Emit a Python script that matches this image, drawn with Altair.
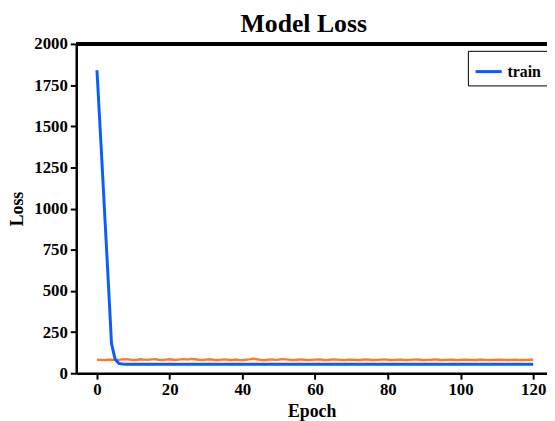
import altair as alt
import pandas as pd

epochs = list(range(121))
train_loss = [1840, 1435, 1020, 605, 180, 85, 60, 56] + [55] * 113
orange_loss = [
    82, 81, 80, 82, 83, 80, 81, 84, 86, 83, 80, 82, 85, 83, 81, 84, 86, 82, 80, 83,
    85, 82, 81, 84, 86, 83, 87, 85, 82, 80, 83, 85, 82, 80, 81, 84, 82, 80, 83, 81,
    79, 82, 84, 88, 85, 81, 79, 82, 84, 81, 83, 86, 84, 81, 80, 82, 84, 82, 80, 81,
    83, 84, 82, 80, 82, 84, 83, 81, 80, 82, 83, 81, 80, 82, 84, 82, 80, 81, 83, 84,
    82, 80, 81, 83, 82, 80, 81, 83, 84, 82, 80, 81, 82, 84, 82, 80, 81, 83, 82, 80,
    81, 82, 83, 81, 80, 82, 83, 81, 80, 81, 82, 83, 81, 80, 81, 82, 81, 80, 81, 82,
    82,
]
x_ticks = [0, 20, 40, 60, 80, 100, 120]
y_ticks = [0, 250, 500, 750, 1000, 1250, 1500, 1750, 2000]

df = pd.DataFrame({"epoch": epochs, "train": train_loss, "other": orange_loss, "series": "train"})

FONT = "Liberation Serif"
W, H = 476, 333

x = alt.X("epoch:Q", scale=alt.Scale(domain=[-5.7, 123.8], nice=False, zero=False),
          axis=alt.Axis(values=x_ticks, format="d", title="Epoch", grid=False, labelFont=FONT,
                        labelFontWeight="bold", labelFontSize=17, titleFont=FONT,
                        titleFontWeight="bold", titleFontSize=18, titlePadding=5,
                        domainColor="black", domainWidth=2.5, tickColor="black",
                        tickWidth=2, tickSize=6, labelColor="black", titleColor="black",
                        labelPadding=3))

y_axis = alt.Axis(values=y_ticks, format="d", title="Loss", grid=False, labelFont=FONT,
                  labelFontWeight="bold", labelFontSize=17, titleFont=FONT,
                  titleFontWeight="bold", titleFontSize=18, titlePadding=7,
                  domainColor="black", domainWidth=2.5, tickColor="black",
                  tickWidth=2, tickSize=6, labelColor="black", titleColor="black",
                  labelPadding=3)

orange = alt.Chart(df).mark_line(color="#ff7b22", strokeWidth=2.4).encode(
    x=x,
    y=alt.Y("other:Q", scale=alt.Scale(domain=[0, 2000], nice=False), axis=y_axis),
)

blue = alt.Chart(df).mark_line(strokeWidth=3).encode(
    x=x,
    y=alt.Y("train:Q", scale=alt.Scale(domain=[0, 2000], nice=False), axis=y_axis),
    color=alt.Color("series:N", scale=alt.Scale(domain=["train"], range=["#0a5cff"]),
                    legend=alt.Legend(title=None, orient="none", legendX=396, legendY=7,
                                      strokeColor="black", padding=6, symbolType="stroke",
                                      symbolSize=700, symbolStrokeWidth=3,
                                      labelFont=FONT, labelFontWeight="bold",
                                      labelFontSize=16, labelColor="black",
                                      cornerRadius=0)),
)

top = alt.Chart(df).mark_rule(color="black", strokeWidth=2.5, clip=False).encode(
    x=alt.value(0), x2=alt.value(W + 10), y=alt.value(0)
)

chart = alt.layer(orange, blue, top).properties(
    width=W, height=H,
    title=alt.Title("Model Loss", font=FONT, fontWeight="bold", fontSize=26,
                    color="black", anchor="middle", frame="group", dx=-8, offset=-2),
    autosize=alt.AutoSizeParams(type="none"),
    padding={"left": 69, "top": 34, "right": 0, "bottom": 46},
).configure_view(stroke=None).configure(background="white")

chart.save("out.html", embed_options={"renderer": "svg", "actions": False})
